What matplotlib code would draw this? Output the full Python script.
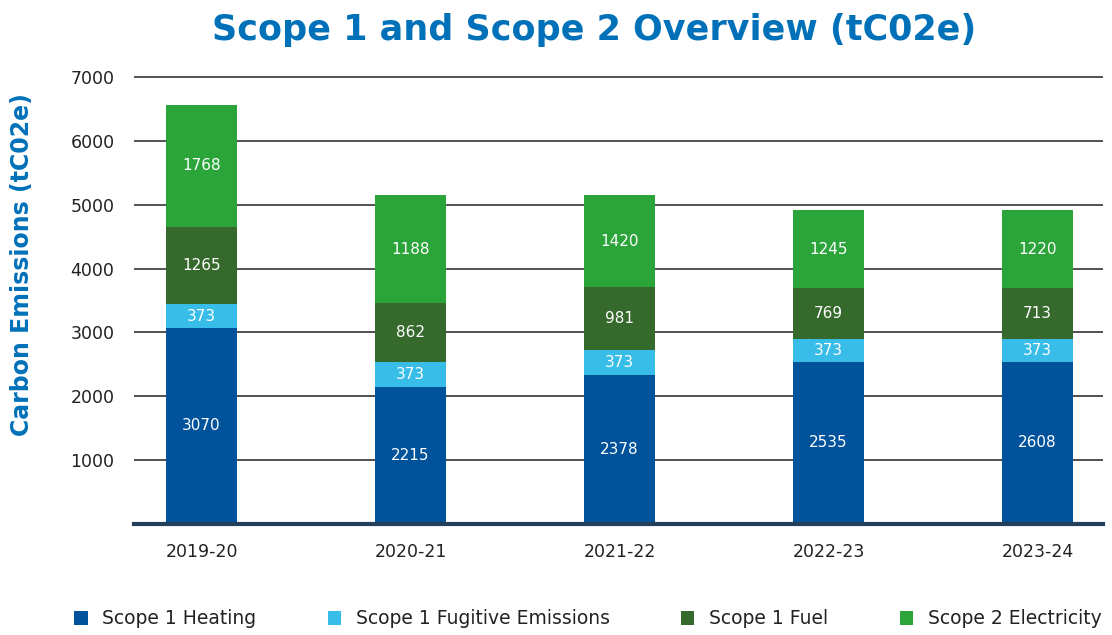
import matplotlib
matplotlib.use("Agg")
import matplotlib.pyplot as plt
from matplotlib.patches import Patch
import numpy as np

plt.rcParams['font.family'] = ['DejaVu Sans']

years = ["2019-20", "2020-21", "2021-22", "2022-23", "2023-24"]
series_names = ["Scope 1 Heating", "Scope 1 Fugitive Emissions", "Scope 1 Fuel", "Scope 2 Electricity"]
colors = ["#00529b", "#38bce8", "#366a2d", "#2ba53a"]

# bar heights as drawn in the picture
heating = [3067, 2141, 2329, 2533, 2533]
fugitive = [376, 392, 393, 361, 361]
fuel = [1213, 926, 988, 800, 800]
electricity = [1909, 1694, 1443, 1224, 1224]

# data labels printed on the bars
heating_lbl = ["3070", "2215", "2378", "2535", "2608"]
fugitive_lbl = ["373", "373", "373", "373", "373"]
fuel_lbl = ["1265", "862", "981", "769", "713"]
electricity_lbl = ["1768", "1188", "1420", "1245", "1220"]

yticks = [1000, 2000, 3000, 4000, 5000, 6000, 7000]

W, H = 1112, 635
fig = plt.figure(figsize=(W / 100, H / 100), dpi=100)
ax = fig.add_axes([134 / W, 1 - 523.5 / H, (1103 - 134) / W, (523.5 - 74.1) / H])

x = np.arange(len(years))
bottom = np.zeros(len(years))
for vals, lbls, col in zip([heating, fugitive, fuel, electricity],
                           [heating_lbl, fugitive_lbl, fuel_lbl, electricity_lbl], colors):
    vals = np.array(vals, dtype=float)
    ax.bar(x, vals, width=0.34, bottom=bottom, color=col, zorder=3)
    for xi, b, v, t in zip(x, bottom, vals, lbls):
        ax.text(xi, b + v / 2, t, ha="center", va="center", color="white",
                fontsize=11, zorder=4)
    bottom += vals

ax.set_xlim(-0.323, 4.313)
ax.set_ylim(0, 7050)
ax.set_yticks(yticks)
ax.set_yticklabels([str(v) for v in yticks], fontsize=12.5, color="#222222")
ax.set_xticks(x)
ax.set_xticklabels(years, fontsize=12.5, color="#222222")
ax.tick_params(axis="y", length=0, pad=14)
ax.tick_params(axis="x", length=0, pad=14)
ax.yaxis.grid(True, color="#333333", linewidth=1.2, zorder=0)
ax.set_axisbelow(True)
for s in ["top", "right", "left"]:
    ax.spines[s].set_visible(False)
ax.spines["bottom"].set_color("#243f5a")
ax.spines["bottom"].set_linewidth(3)
ax.spines["bottom"].set_zorder(5)

fig.text(594 / W, 1 - 30 / H, "Scope 1 and Scope 2 Overview (tC02e)", ha="center", va="center",
         fontsize=25.2, fontweight="bold", color="#0071b9")
fig.text(22 / W, 1 - 265 / H, "Carbon Emissions (tC02e)", ha="center", va="center",
         rotation=90, fontsize=17, fontweight="bold", color="#0071b9")

handles = [Patch(facecolor=c, edgecolor="none") for c in colors]
fig.legend(handles, series_names, loc="center", bbox_to_anchor=(588 / W, 1 - 619 / H),
           ncol=4, frameon=False, fontsize=13.5, handlelength=0.7, handleheight=0.7,
           handletextpad=0.8, columnspacing=3.8, labelcolor="#222222")

fig.savefig("out.png", dpi=100)
